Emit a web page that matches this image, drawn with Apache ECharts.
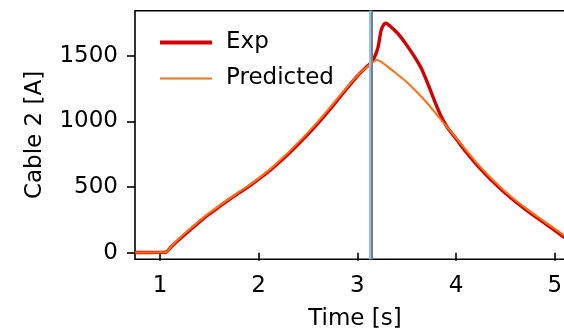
<!DOCTYPE html>
<html>
<head>
<meta charset="utf-8">
<script src="https://cdn.jsdelivr.net/npm/echarts@6/dist/echarts.min.js"></script>
<style>
html,body{margin:0;padding:0;background:#fff;}
#chart{width:564px;height:329px;}
</style>
</head>
<body>
<div id="chart"></div>
<script>
// Time [s] samples and values
const expTime = [0.75,0.9,1.0,1.06,1.12,1.2,1.3,1.4,1.5,1.6,1.7,1.8,1.9,2.0,2.1,2.2,2.3,2.4,2.5,2.6,2.7,2.8,2.9,3.0,3.08,3.13,3.17,3.21,3.24,3.27,3.29,3.32,3.36,3.42,3.5,3.58,3.65,3.72,3.79,3.85,3.9,3.95,4.0,4.1,4.2,4.3,4.4,4.5,4.6,4.7,4.8,4.9,5.0,5.1];
const expValues = [2,2,3,4,50,105,170,235,295,350,405,455,505,560,618,683,752,826,903,985,1072,1163,1256,1345,1405,1440,1482,1565,1690,1740,1746,1732,1705,1660,1580,1490,1400,1275,1140,1035,968,915,868,768,678,597,522,452,390,332,276,223,170,115];
const predTime = [0.75,1.0,1.06,1.12,1.2,1.3,1.4,1.5,1.6,1.7,1.8,1.9,2.0,2.1,2.2,2.3,2.4,2.5,2.6,2.7,2.8,2.9,3.0,3.1,3.2,3.3,3.4,3.5,3.6,3.7,3.8,3.9,4.0,4.1,4.2,4.3,4.4,4.5,4.6,4.7,4.8,4.9,5.0,5.1];
const predValues = [2,3,4,52,112,178,242,302,357,410,462,512,566,625,693,763,838,916,998,1085,1175,1265,1348,1415,1466,1420,1360,1300,1225,1145,1055,965,875,782,692,610,535,465,402,343,288,235,183,128];
const xTicks = [1,2,3,4,5];
const yTicks = [0,500,1000,1500];
const vLineBlue = 3.131;
const vLineGray = 3.155;
const seriesNames = ['Exp','Predicted'];

const zip = (a,b) => a.map((x,i)=>[x,b[i]]);
const font = 'DejaVu Sans';
const chart = echarts.init(document.getElementById('chart'), null, {renderer:'canvas'});
chart.setOption({
  animation:false,
  backgroundColor:'#fff',
  grid:{left:135,top:10.7,width:440,height:248.6,show:true,borderColor:'#000',borderWidth:1.6,
        backgroundColor:'transparent',containLabel:false,outerBoundsMode:'none'},
  xAxis:{type:'value',min:0.747,max:5.205,
    name:'Time [s]',nameLocation:'middle',nameGap:48,
    nameTextStyle:{fontFamily:font,fontSize:23,color:'#000'},
    splitLine:{show:false},
    axisLine:{show:false},
    axisTick:{show:true,length:8,inside:false,lineStyle:{color:'#000',width:1.6},customValues:xTicks},
    axisLabel:{fontFamily:font,fontSize:23,color:'#000',margin:15,customValues:xTicks,formatter:v=>String(v)}
  },
  yAxis:{type:'value',min:-50,max:1842,
    name:'Cable 2 [A]',nameLocation:'middle',nameGap:88,nameRotate:90,
    nameTextStyle:{fontFamily:font,fontSize:23,color:'#000'},
    splitLine:{show:false},
    axisLine:{show:false},
    axisTick:{show:true,length:8,inside:false,lineStyle:{color:'#000',width:1.6},customValues:yTicks},
    axisLabel:{fontFamily:font,fontSize:23,color:'#000',margin:17,customValues:yTicks,formatter:v=>String(v)}
  },
  legend:[
    {data:[seriesNames[0]],left:155,top:26,icon:'rect',itemWidth:52,itemHeight:4,
     textStyle:{fontFamily:font,fontSize:23,color:'#000',padding:[0,0,0,9]}},
    {data:[seriesNames[1]],left:155,top:62,icon:'rect',itemWidth:52,itemHeight:2.2,
     textStyle:{fontFamily:font,fontSize:23,color:'#000',padding:[0,0,0,9]}}
  ],
  series:[
    {name:seriesNames[0],type:'line',data:zip(expTime,expValues),showSymbol:false,smooth:0.2,
     lineStyle:{color:'#d40000',width:3.4},itemStyle:{color:'#d40000'},z:2},
    {name:seriesNames[1],type:'line',data:zip(predTime,predValues),showSymbol:false,smooth:0.2,
     lineStyle:{color:'#ff7010',width:2},itemStyle:{color:'#ff7010'},z:3,
     markLine:{silent:true,symbol:'none',label:{show:false},
       data:[
         {xAxis:vLineBlue,lineStyle:{color:'#8cc3f2',width:3,type:'solid'}},
         {xAxis:vLineGray,lineStyle:{color:'#7f7f7f',width:2,type:'solid'}}
       ]}}
  ]
});
</script>
</body>
</html>
